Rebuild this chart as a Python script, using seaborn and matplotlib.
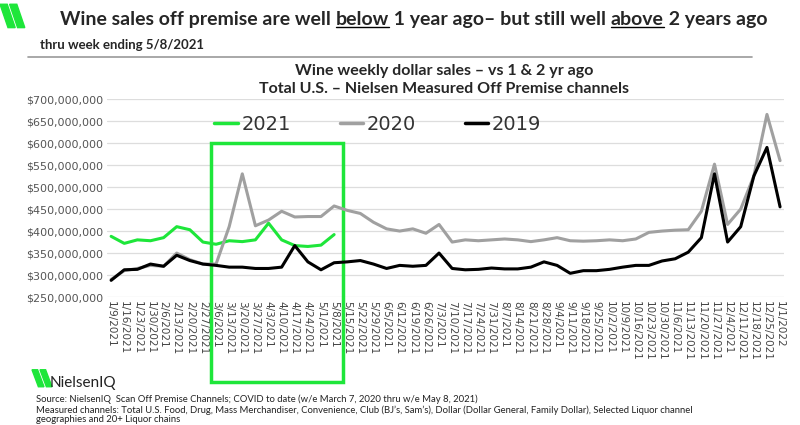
import matplotlib
matplotlib.use("Agg")
import matplotlib.pyplot as plt
import matplotlib.transforms as mtransforms
from matplotlib.patches import Rectangle, Polygon
from matplotlib.lines import Line2D
import seaborn as sns
import pandas as pd

# ---------------------------------------------------------------------------
# Data (values in $M)
# ---------------------------------------------------------------------------
weeks = pd.date_range("2021-01-09", "2022-01-01", freq="7D")
week_labels = [f"{d.month}/{d.day}/{d.year}" for d in weeks]

sales_2021 = [388, 372, 380, 378, 385, 410, 403, 375, 370, 378, 376, 380, 418,
              380, 367, 365, 368, 392]
sales_2020 = [290, 310, 315, 322, 320, 350, 335, 325, 325, 410, 530, 412, 425,
              445, 432, 433, 433, 457, 447, 440, 420, 405, 400, 405, 395, 415,
              375, 380, 378, 380, 382, 380, 376, 380, 385, 378, 377, 378, 380,
              378, 382, 397, 400, 402, 403, 445, 552, 415, 450, 525, 665, 560]
sales_2019 = [288, 312, 313, 325, 320, 345, 333, 325, 322, 318, 318, 315, 315,
              318, 367, 330, 312, 328, 330, 333, 325, 315, 322, 320, 322, 350,
              315, 312, 313, 316, 314, 314, 318, 330, 322, 304, 310, 310, 313,
              318, 322, 322, 332, 337, 352, 385, 530, 375, 410, 525, 590, 455]

series = {"2021": sales_2021, "2020": sales_2020, "2019": sales_2019}
colors = {"2021": "#1ee63a", "2020": "#a0a0a0", "2019": "#000000"}

rows = []
for name, vals in series.items():
    for i, v in enumerate(vals):
        rows.append({"week": i, "sales": v * 1e6, "year": name})
df = pd.DataFrame(rows)

# ---------------------------------------------------------------------------
# Figure
# ---------------------------------------------------------------------------
sns.set_style("white")
plt.rcParams["font.family"] = "Lato"
fig = plt.figure(figsize=(8, 4.25), dpi=100)
ax = fig.add_axes([0.134, 0.301, 0.846, 0.466])

sns.lineplot(data=df, x="week", y="sales", hue="year", palette=colors,
             hue_order=["2021", "2020", "2019"], linewidth=2.2, ax=ax,
             legend=False)

ax.set_ylim(250e6, 700e6)
ax.set_yticks(range(int(250e6), int(700e6) + 1, int(50e6)))
ax.set_yticklabels([f"${v:,.0f}" for v in ax.get_yticks()], fontsize=8,
                   color="#555555", fontfamily="DejaVu Sans")
ax.set_xlim(-0.3, len(weeks) - 0.7)
ax.set_xticks(range(len(weeks)))
ax.set_xticklabels(week_labels, rotation=-90, fontsize=7.5, color="#444444",
                   fontfamily="DejaVu Sans")
ax.tick_params(length=0, pad=3)
ax.grid(axis="y", color="#dddddd", linewidth=0.9)
ax.set_xlabel("")
ax.set_ylabel("")
for s in ax.spines.values():
    s.set_visible(False)

# legend
handles = [Line2D([0], [0], color=colors[k], lw=2.5) for k in ["2021", "2020", "2019"]]
ax.legend(handles, ["2021", "2020", "2019"], loc="upper center", ncol=3,
          bbox_to_anchor=(0.4, 1.01), frameon=False,
          prop={"family": "DejaVu Sans", "size": 14},
          handlelength=1.2, handletextpad=0.2, columnspacing=2.5,
          labelcolor="#333333")

# green highlight box (COVID-to-date window)
trans = mtransforms.blended_transform_factory(ax.transData, ax.transAxes)
ax.add_patch(Rectangle((7.6, -0.43), 10.1, 1.21, transform=trans, fill=False,
                       edgecolor="#1ee63a", linewidth=2.5, clip_on=False))

# headline, drawn in pieces so "below" / "above" can be underlined
renderer = fig.canvas.get_renderer()
x = 0.075
for piece, underline in [("Wine sales off premise are well ", False), ("below", True),
                         (" 1 year ago\u2013 but still well ", False), ("above", True),
                         (" 2 years ago", False)]:
    t = fig.text(x, 0.955, piece, fontsize=14, fontweight="bold", va="center")
    bb = t.get_window_extent(renderer).transformed(fig.transFigure.inverted())
    if underline:
        fig.add_artist(Line2D([bb.x0, bb.x1], [bb.y0 + 0.002, bb.y0 + 0.002],
                              color="black", lw=1))
    x = bb.x1

fig.text(0.05, 0.893, "thru week ending 5/8/2021", fontsize=9.5, fontweight="bold", va="center")
fig.add_artist(Line2D([0.035, 0.94], [0.865, 0.865], color="#999999", lw=1.2))
fig.text(0.555, 0.832, "Wine weekly dollar sales \u2013 vs 1 & 2 yr ago",
         fontsize=11.5, fontweight="bold", ha="center", va="center")
fig.text(0.555, 0.79, "Total U.S. \u2013 Nielsen Measured Off Premise channels",
         fontsize=11.5, fontweight="bold", ha="center", va="center")

# logos
for x0 in (0.0, 0.012):
    fig.add_artist(Polygon([[x0, 0.99], [x0 + 0.009, 0.99], [x0 + 0.019, 0.935], [x0 + 0.01, 0.935]],
                           closed=True, color="#1ee63a", transform=fig.transFigure))
for x0 in (0.04, 0.05):
    fig.add_artist(Polygon([[x0, 0.13], [x0 + 0.007, 0.13], [x0 + 0.015, 0.09], [x0 + 0.008, 0.09]],
                           closed=True, color="#1ee63a", transform=fig.transFigure))
fig.text(0.062, 0.1, "NielsenIQ", fontsize=11, va="center", color="#222222")

fig.text(0.045, 0.06, "Source: NielsenIQ  Scan Off Premise Channels; COVID to date (w/e March 7, 2020 thru w/e May 8, 2021)",
         fontsize=6.8, va="center", color="#222222")
fig.text(0.045, 0.035, "Measured channels: Total U.S. Food, Drug, Mass Merchandiser, Convenience, Club (BJ\u2019s, Sam\u2019s), Dollar (Dollar General, Family Dollar), Selected Liquor channel",
         fontsize=6.8, va="center", color="#222222")
fig.text(0.045, 0.012, "geographies and 20+ Liquor chains", fontsize=6.8, va="center", color="#222222")

fig.savefig("out.png", dpi=100)
